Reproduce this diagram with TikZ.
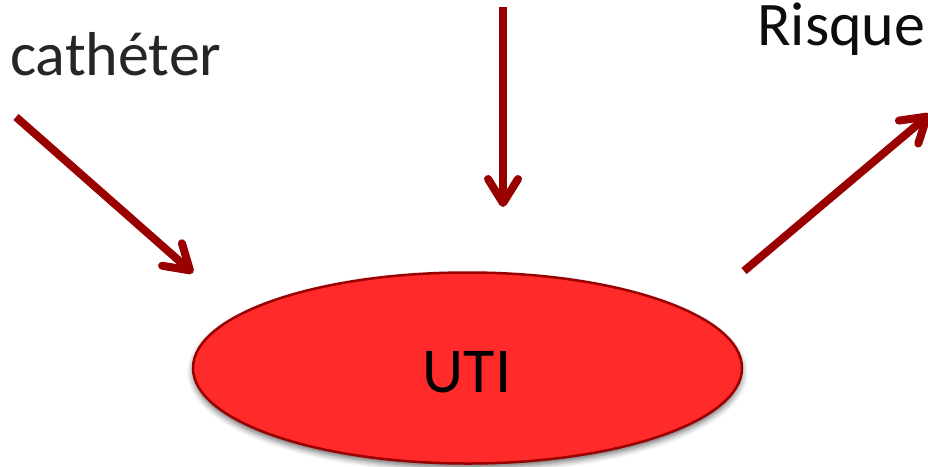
\documentclass[tikz,border=0pt]{standalone}
\usepackage{fontspec}
\setmainfont{Carlito}
\usetikzlibrary{arrows.meta,shapes.geometric,shadows.blur}
\definecolor{arrowred}{HTML}{990000}
\definecolor{blobred}{HTML}{FF2A2A}
\definecolor{blobedge}{HTML}{9A0000}
\definecolor{labelgray}{HTML}{262626}
\tikzset{
  link/.style={draw=arrowred, line width=8pt,
    -{Straight Barb[length=24pt, width=30pt, round]}},
  label/.style={inner sep=0pt, font=\fontsize{62}{70}\selectfont},
  blob/.style={ellipse, draw=blobedge, line width=2.5pt, fill=blobred,
    minimum width=549pt, minimum height=191pt, inner sep=0pt,
    blur shadow={shadow xshift=0pt, shadow yshift=-4pt, shadow blur radius=6pt,
      shadow opacity=60}}
}
\begin{document}
\begin{tikzpicture}[x=1pt, y=-1pt]
  \useasboundingbox (0,0) rectangle (928,466);
  % labels
  \node[label, text=labelgray, anchor=base west] (cath) at (10,75) {cathéter};
  \node[label, text=black!95, anchor=base west] (risk) at (757,45) {Risque};
  % central ellipse
  \node[blob] (uti) at (467.5,368) {};
  \node[inner sep=0pt, anchor=base, font=\fontsize{64}{70}\selectfont] (utitext) at (467,392) {UTI};
  % arrow end points
  \coordinate (a1s) at (16,117);
  \coordinate (a1e) at (193,273);
  \coordinate (a2s) at (503,7);
  \coordinate (a2e) at (503,207);
  \coordinate (a3s) at (744,271);
  \coordinate (a3e) at (930,114);
  \draw[link] (a1s) -- (a1e);
  \draw[link] (a2s) -- (a2e);
  \draw[link] (a3s) -- (a3e);
\end{tikzpicture}
\end{document}
